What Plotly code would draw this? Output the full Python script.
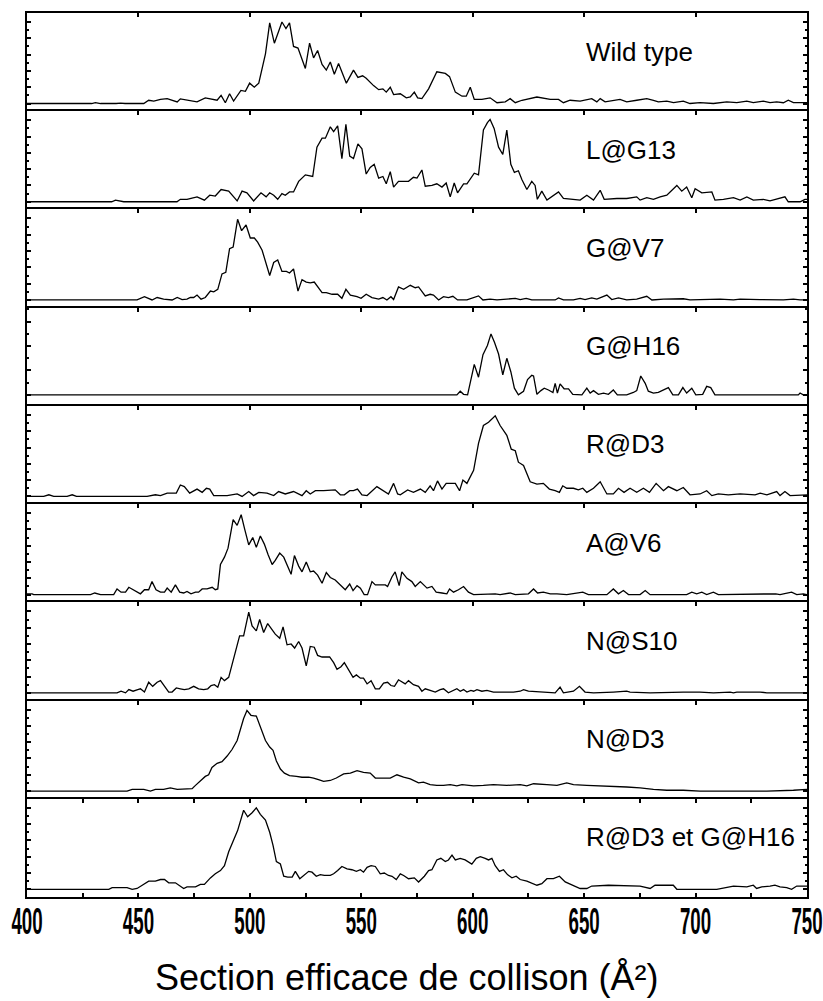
import plotly.graph_objects as go
from plotly.subplots import make_subplots

# ---------------- data (x = collision cross-section in A^2, y = normalised intensity) ----------------
LABELS = ["Wild type", "L@G13", "G@V7", "G@H16", "R@D3", "A@V6", "N@S10", "N@D3", "R@D3 et G@H16"]

WILD_TYPE = [(400, 0), (429, 0), (430.7, 0.01), (433, 0), (440, 0), (442, 0.005), (444, 0), (452.4, 0),
    (454.6, 0.04), (456.9, 0.03), (459.9, 0.05), (462.9, 0.06), (467.4, 0.02), (468.8, 0.057), (476.3, 0.02),
    (480, 0.07), (485.3, 0.04), (487.1, 0.1), (489, 0.01), (490.9, 0.12), (492.7, 0.03), (496, 0.16),
    (498, 0.15), (499.9, 0.25), (502, 0.2), (504, 0.25), (507, 0.61), (508.9, 0.99), (511, 0.74),
    (514.4, 1.0), (516.2, 0.92), (517.8, 0.99), (519.6, 0.7), (521.6, 0.68), (524.9, 0.43), (526.8, 0.74),
    (528.6, 0.56), (530.4, 0.65), (532.4, 0.48), (534.3, 0.41), (536.1, 0.51), (537.9, 0.36), (539.8, 0.49),
    (543.3, 0.25), (546.5, 0.41), (548.5, 0.32), (550.6, 0.34), (552.2, 0.31), (555.5, 0.22), (557.8, 0.17),
    (559.7, 0.18), (561.2, 0.14), (563, 0.2), (564.5, 0.11), (567.5, 0.12), (570.2, 0.07), (572, 0.08),
    (573.8, 0.14), (575.3, 0.07), (577.2, 0.06), (580.2, 0.18), (583.9, 0.39), (587.7, 0.37), (589.6, 0.33),
    (592.2, 0.14), (595.2, 0.09), (597.1, 0.09), (598.9, 0.2), (600.7, 0.05), (604.1, 0.05), (607.8, 0.07),
    (610.9, 0.01), (614.6, 0.02), (616.8, 0.06), (619.1, 0.01), (622.1, 0.04), (628.8, 0.08), (634.8, 0.05),
    (638.5, 0.05), (640.7, 0.01), (643.7, 0.04), (648.2, 0.03), (653.4, 0.06), (655.7, 0.02), (657.2, 0.06),
    (659.4, 0.02), (666.1, 0.05), (669.1, 0.02), (673.6, 0.04), (678.1, 0.06), (681.1, 0.04), (683.3, 0.02),
    (687.1, 0.03), (690.1, 0.01), (694.5, 0.03), (697.5, 0), (702, 0.01), (708, 0), (714, 0.02),
    (718.5, 0.01), (723, 0.03), (725.9, 0.01), (730.4, 0.03), (733.4, 0.01), (736.4, 0.02), (739.4, 0.01),
    (741.6, 0.04), (743.9, 0.01), (750, 0.01)]

L_G13 = [(400, 0), (438, 0), (439.7, 0.02), (443.4, 0), (467.3, 0), (468.8, 0.03), (471.8, 0.03),
    (476.3, 0.06), (479.6, 0.02), (482, 0.08), (484.5, 0.07), (487.1, 0.15), (490.5, 0.13), (494.3, 0.01),
    (496.5, 0.13), (498.7, 0.11), (501.7, 0.01), (505, 0.11), (507.3, 0.06), (508.9, 0.11), (510.7, 0.08),
    (512.5, 0.03), (514.4, 0.1), (515.9, 0.08), (517.8, 0.12), (519.6, 0.12), (521.9, 0.25), (524.9, 0.33),
    (528.2, 0.31), (530.1, 0.67), (532.4, 0.78), (533.9, 0.78), (536.1, 0.92), (537.6, 0.86), (539.4, 0.93),
    (541.3, 0.53), (543.1, 0.95), (544.8, 0.56), (546.5, 0.53), (548.5, 0.71), (550.3, 0.65), (552.2, 0.34),
    (554, 0.42), (555.8, 0.46), (557.8, 0.29), (559.7, 0.31), (561.2, 0.22), (563, 0.37), (564.5, 0.18),
    (566.7, 0.25), (571.2, 0.25), (573.4, 0.3), (575, 0.29), (577.2, 0.39), (578.7, 0.19), (581.7, 0.2),
    (583.9, 0.22), (586.2, 0.18), (588.1, 0.23), (589.9, 0.06), (591.7, 0.23), (593.2, 0.11), (595.9, 0.22),
    (597.4, 0.22), (600.7, 0.35), (602.6, 0.33), (604.8, 0.88), (606.6, 0.97), (607.8, 1.01), (609.6, 0.9),
    (611.6, 0.67), (613.5, 0.58), (615.3, 0.88), (617.1, 0.46), (618.7, 0.36), (620.5, 0.38), (622.1, 0.27),
    (624.3, 0.15), (626.5, 0.25), (628, 0.2), (629, 0.03), (631, 0.13), (633.3, 0.02), (638.5, 0.12),
    (640.7, 0.04), (648.2, 0.02), (651.2, 0.08), (654.2, 0.02), (657.2, 0.14), (659, 0.03), (664.7, 0.04),
    (669.1, 0.04), (673.6, 0.06), (675.1, 0.02), (678.1, 0.05), (681.1, 0.03), (684.1, 0.06), (687.1, 0.08),
    (691.6, 0.2), (693.8, 0.13), (696, 0.18), (698.3, 0.05), (699.8, 0.16), (702.8, 0.11), (707.3, 0.12),
    (708.7, 0.02), (712.5, 0.03), (717, 0.05), (720, 0.02), (723, 0.06), (725.9, 0.02), (730.4, 0.03),
    (733.4, 0.01), (736.4, 0.03), (740.1, 0.06), (741.6, 0), (746.9, 0), (749.1, 0.03), (750, 0.03)]

G_V7 = [(400, 0), (449.4, 0), (452.7, 0.04), (456.1, 0), (458.4, 0.03), (461.3, 0.01), (465.1, 0),
    (467.4, 0.03), (469.6, 0.005), (471.8, 0.01), (473.3, 0.03), (474.8, 0.03), (476.3, 0.06), (478.1, 0.01),
    (480, 0.03), (482.3, 0.11), (483.8, 0.1), (485.6, 0.13), (487.5, 0.32), (489.2, 0.34), (490.9, 0.63),
    (492.5, 0.65), (494.5, 0.99), (496.3, 0.85), (498.3, 0.92), (500.2, 0.76), (502, 0.76), (503.5, 0.71),
    (505.5, 0.61), (507, 0.48), (508.9, 0.3), (510.7, 0.46), (512.5, 0.49), (514.4, 0.35), (516.4, 0.35),
    (517.8, 0.33), (519.6, 0.38), (521.6, 0.11), (523.4, 0.25), (525.3, 0.22), (527.1, 0.21), (528.9, 0.22),
    (532.4, 0.09), (534.3, 0.09), (536.9, 0.07), (539.4, 0.07), (541.3, 0.02), (543.1, 0.13), (545.1, 0.06),
    (548.1, 0.04), (549.9, 0.02), (552.2, 0.07), (554.8, 0.03), (557.8, 0.01), (559.7, 0.03), (561.5, 0),
    (563.3, 0.04), (564.5, 0.005), (566.7, 0.16), (569, 0.13), (572, 0.18), (574.2, 0.15), (575.7, 0.16),
    (578.7, 0.05), (580.9, 0.07), (582.4, 0.06), (584.7, 0), (586.9, 0.04), (589.1, 0.03), (591.1, 0.045),
    (593.2, 0), (597.4, 0), (599.6, 0.02), (602.6, 0.05), (604.6, 0), (607.8, 0.01), (610.9, 0),
    (615.3, 0.01), (619.1, 0.02), (621.3, 0.005), (624, 0.02), (626.5, 0), (633.3, 0.005), (637, 0),
    (638.5, 0.025), (640.7, 0), (645.2, 0), (648.2, 0.02), (650.4, 0.005), (653.4, 0.025), (655.7, 0.01),
    (660.2, 0.06), (662.4, 0.005), (665.4, 0.025), (669.1, 0), (673.6, 0.01), (678.1, 0.045), (680.4, 0),
    (685.6, 0.01), (694.5, 0.015), (697.5, 0), (711, 0.01), (717, 0), (720, 0.01), (729, 0.005),
    (739.4, 0), (743.9, 0.01), (746.9, 0), (750, 0)]

G_H16 = [(400, 0), (592.9, 0), (594.4, 0.06), (595.9, 0.01), (597.7, 0), (600.7, 0.5), (602.6, 0.29),
    (604.6, 0.66), (606.6, 0.81), (608.2, 1.0), (609.8, 0.86), (611.6, 0.67), (613.5, 0.33), (615.3, 0.6),
    (617.1, 0.38), (618.7, 0.11), (620.5, 0), (622.8, 0.06), (624.6, 0.25), (626.5, 0.32), (627.3, 0.31),
    (628.8, 0.01), (630.6, 0.07), (632.1, 0.11), (634, 0.08), (636, 0.04), (637, 0.19), (638, 0.03),
    (639.2, 0.18), (641, 0.1), (643, 0.1), (644.9, 0.01), (649, 0), (651.2, 0.11), (652.7, 0.03),
    (654.2, 0.07), (656.4, 0.01), (658.7, 0.03), (660.9, 0.01), (663.1, 0.08), (664.9, 0), (669.1, 0),
    (672.1, 0.04), (673.6, 0.07), (675.4, 0.31), (677.4, 0.19), (678.8, 0.06), (681.1, 0.03), (683.3, 0.04),
    (685.6, 0.08), (687.8, 0.12), (689.8, 0), (692.3, 0), (694.3, 0.12), (696, 0.03), (698.3, 0.11),
    (700.1, 0), (703.2, 0.01), (705, 0.14), (706.8, 0.12), (708.7, 0), (746.1, 0), (746.9, 0.03),
    (748.3, 0), (750, 0)]

R_D3 = [(400, 0), (407.5, 0), (409.8, 0.02), (412, 0), (418, 0), (420.3, 0.02), (422.2, 0), (453.9, 0),
    (457.6, 0.02), (459.9, 0.01), (462.9, 0.04), (467, 0.04), (468.8, 0.14), (470.6, 0.12), (473, 0.04),
    (476.3, 0.09), (478.6, 0.05), (480.5, 0.1), (482, 0.09), (483.8, 0.01), (489.8, 0.01), (494.3, 0.03),
    (496.5, 0), (499.5, 0.06), (501.7, 0.01), (504, 0.05), (507.7, 0.04), (510.7, 0.01), (512.9, 0.06),
    (515.9, 0.03), (519.6, 0.06), (523.4, 0.01), (525.3, 0.07), (527.1, 0.03), (529.4, 0.07), (533.1, 0.07),
    (538.3, 0.08), (540.6, 0.02), (542.4, 0.02), (544.8, 0.07), (546.5, 0.07), (548.3, 0.09), (550.3, 0.02),
    (552.6, 0.01), (557, 0.12), (559.3, 0.08), (562.2, 0.03), (564.5, 0.16), (566.3, 0.03), (567.5, 0.02),
    (570.8, 0.08), (573.4, 0.05), (576.5, 0.09), (578.7, 0.05), (580.9, 0.13), (582.4, 0.07), (584.2, 0.19),
    (586.2, 0.09), (588.1, 0.16), (590.7, 0.16), (592.2, 0.16), (594.1, 0.07), (595.6, 0.2), (597.4, 0.16),
    (600.4, 0.32), (602.6, 0.65), (604.8, 0.87), (607.1, 0.91), (610.1, 0.99), (612.3, 0.87), (615.3, 0.75),
    (617.3, 0.58), (619.1, 0.56), (620.5, 0.42), (622.8, 0.38), (625.8, 0.18), (628.8, 0.15), (631.7, 0.16),
    (634.4, 0.09), (637, 0.07), (638.9, 0.05), (640.4, 0.13), (642.2, 0.1), (645.2, 0.1), (647.4, 0.08),
    (649.4, 0.1), (651.2, 0.05), (654.2, 0.1), (657.2, 0.18), (660.2, 0.03), (663.1, 0.03), (665.4, 0.1),
    (667.9, 0.05), (670.6, 0.1), (673.6, 0.05), (676.6, 0.1), (679.3, 0.05), (682.3, 0.16), (685.6, 0.07),
    (687.8, 0.12), (691.6, 0.07), (694.5, 0.11), (697.5, 0.02), (702, 0.03), (705, 0.07), (707.3, 0.01),
    (710.2, 0.03), (714.7, 0.02), (720, 0.03), (726.7, 0.02), (729, 0.04), (732, 0.02), (736.4, 0.06),
    (737.9, 0.01), (740.1, 0.06), (742.4, 0.01), (748.3, 0.02), (750, 0.02)]

A_V6 = [(400, 0.01), (402.3, 0.01), (403, 0), (428.5, 0), (430.4, 0.02), (433, 0), (438.9, 0), (440.4, 0.07),
    (442.2, 0.03), (444.2, 0.03), (445.7, 0.09), (447.9, 0.06), (450.9, 0.01), (452.7, 0.06), (454.6, 0.06),
    (456.1, 0.16), (457.9, 0.06), (459.9, 0.03), (461.7, 0.03), (462.9, 0.08), (464.7, 0.03), (466.6, 0.12),
    (468.5, 0.03), (470.3, 0.02), (471.8, 0.04), (473.6, 0.01), (475.6, 0.03), (477, 0.03), (478.6, 0.07),
    (480.8, 0.07), (483.1, 0.09), (484.5, 0.06), (485.6, 0.07), (486.8, 0.37), (488.6, 0.46), (490.2, 0.57),
    (492.5, 0.92), (494.3, 0.85), (496.1, 0.98), (497.7, 0.8), (499.5, 0.61), (501.3, 0.7), (502.9, 0.58),
    (504.7, 0.72), (506.5, 0.62), (508.2, 0.49), (510, 0.37), (511.4, 0.42), (513.4, 0.51), (515.2, 0.46),
    (516.7, 0.37), (518.5, 0.25), (520, 0.48), (521.9, 0.35), (523.4, 0.28), (525.3, 0.4), (527.1, 0.28),
    (528.6, 0.29), (530.4, 0.24), (532.4, 0.14), (534.3, 0.27), (536.1, 0.21), (538.3, 0.18), (540.6, 0.12),
    (542.8, 0.06), (544.8, 0.13), (546.3, 0.05), (548.1, 0.11), (549.6, 0.08), (551.3, 0), (552.8, 0),
    (554.8, 0.16), (556.3, 0.12), (558.5, 0.12), (560.8, 0.12), (561.8, 0.1), (563.8, 0.22), (565.2, 0.28),
    (567, 0.11), (568.2, 0.28), (570.5, 0.2), (572.7, 0.16), (574.2, 0.1), (576.5, 0.16), (577.9, 0.12),
    (579.5, 0.08), (581.7, 0.1), (583.6, 0.03), (586.2, 0.02), (588.4, 0.01), (589.6, 0.07), (591.4, 0.03),
    (593.6, 0.06), (595.9, 0.1), (598.1, 0.03), (600.4, 0), (610.1, 0.01), (612.3, 0), (616.8, 0.02),
    (619.1, 0), (625, 0.01), (627.3, 0.07), (629.1, 0.02), (631.7, 0.03), (634.8, 0.01), (637.8, 0.01),
    (642.2, 0), (649.4, 0.03), (651.9, 0), (660.2, 0), (663.1, 0.07), (665.4, 0.01), (667.6, 0.05),
    (669.9, 0), (675.1, 0), (677.4, 0.05), (679.6, 0), (696, 0), (698.3, 0.03), (700.5, 0.01), (702.8, 0.03),
    (705, 0), (708, 0.03), (710.2, 0), (736, 0.01), (737.9, 0), (743.1, 0.03), (745.4, 0), (748.3, 0.01),
    (750, 0)]

N_S10 = [(400, 0), (440.4, 0), (442.2, 0.02), (444.2, 0), (445.7, 0.04), (447.6, 0.02), (449.7, 0.04),
    (450.9, 0.05), (452.7, 0.01), (454.6, 0.13), (456.4, 0.08), (458.4, 0.13), (459.9, 0.15), (461.7, 0.08),
    (463.6, 0.01), (465.1, 0.01), (467, 0.06), (468.8, 0.05), (470.6, 0.04), (472.6, 0.05), (474.8, 0.08),
    (477, 0.05), (479.3, 0.04), (481.1, 0.05), (482.6, 0.09), (484.1, 0.1), (485.6, 0.07), (487.1, 0.19),
    (488.6, 0.15), (490.5, 0.19), (492.5, 0.4), (494, 0.55), (495.4, 0.7), (497.2, 0.7), (498.4, 0.86),
    (499.5, 0.99), (501, 0.82), (502.9, 0.76), (504.4, 0.9), (506.2, 0.74), (508, 0.85), (510, 0.78),
    (511.4, 0.72), (513.4, 0.67), (514.9, 0.81), (516.7, 0.59), (518.5, 0.6), (520.1, 0.55), (521.9, 0.63),
    (523.4, 0.55), (525.3, 0.33), (527.1, 0.57), (528.9, 0.56), (530.4, 0.46), (532.4, 0.44), (535.8, 0.44),
    (537.6, 0.37), (539.1, 0.29), (540.9, 0.32), (542.4, 0.37), (544.3, 0.29), (546.3, 0.19), (547.8, 0.22),
    (549.6, 0.18), (551, 0.18), (552.6, 0.11), (554.4, 0.15), (556.3, 0.05), (558.1, 0.05), (560, 0.12),
    (561.8, 0.13), (563.3, 0.09), (564.9, 0.08), (566.7, 0.16), (569.7, 0.11), (571.2, 0.15), (573.4, 0.1),
    (575.7, 0.08), (577.2, 0.02), (578.7, 0.05), (580.9, 0.03), (583.2, 0.01), (585.4, 0.04), (586.9, 0.05),
    (589.1, 0), (591.1, 0.03), (592.9, 0.05), (594.4, 0.02), (595.9, 0.04), (597.4, 0.01), (599.2, 0.03),
    (600.4, 0.02), (601.9, 0.04), (604.1, 0.02), (606.4, 0.03), (609.3, 0.01), (618.3, 0.01), (621.3, 0.02),
    (622.8, 0.04), (625, 0.02), (629.5, 0.01), (633.3, 0), (637, 0), (639.2, 0.07), (640.7, 0), (645.2, 0.02),
    (647.9, 0.08), (650.4, 0.01), (654.2, 0), (663.1, 0.01), (669.1, 0.02), (670.6, 0.01), (679.6, 0),
    (694.5, 0.01), (702, 0.01), (708, 0), (715.5, 0.01), (717, 0), (718.5, 0.01), (729, 0.01), (732, 0),
    (750, 0)]

N_D3 = [(400, 0), (444.9, 0), (447.2, 0.02), (452.4, 0.02), (455.4, 0), (457.6, 0.02), (461.3, 0.02),
    (464.3, 0.04), (467.4, 0.02), (471.8, 0.03), (474.1, 0.03), (475.6, 0.07), (477.8, 0.13), (480, 0.18),
    (481.5, 0.2), (483, 0.29), (485.3, 0.34), (487.5, 0.36), (489.8, 0.43), (492, 0.51), (494.3, 0.62),
    (496.1, 0.79), (497.2, 0.89), (498.7, 0.99), (500.5, 0.93), (502.9, 0.92), (504.7, 0.79), (507, 0.62),
    (508.9, 0.54), (510.4, 0.5), (511.9, 0.37), (513.7, 0.27), (515.5, 0.22), (517.8, 0.19), (520.9, 0.18),
    (523.4, 0.17), (526.4, 0.17), (528.6, 0.16), (530.8, 0.14), (533.1, 0.12), (536.1, 0.13), (538.8, 0.16),
    (542.1, 0.21), (545.1, 0.22), (548.1, 0.25), (551, 0.23), (554, 0.22), (556.3, 0.16), (559.3, 0.16),
    (563, 0.16), (566, 0.2), (569, 0.17), (572, 0.15), (575.7, 0.1), (577.9, 0.11), (580.9, 0.08),
    (583.9, 0.07), (586.9, 0.07), (589.9, 0.08), (592.9, 0.065), (595.2, 0.08), (597.4, 0.07), (600.4, 0.065),
    (604.8, 0.07), (609.3, 0.08), (615.3, 0.07), (621.3, 0.08), (624.3, 0.065), (627.3, 0.09), (633.3, 0.08),
    (637.8, 0.07), (642.2, 0.1), (645.2, 0.08), (651.2, 0.07), (657.2, 0.065), (663.1, 0.06), (669.1, 0.05),
    (675.1, 0.04), (681.1, 0.02), (687.1, 0.01), (694.5, 0.01), (702, 0), (732, 0), (743.9, 0.01),
    (748.3, 0.02), (750, 0.02)]

R_D3_G_H16 = [(400, 0), (436.7, 0), (438.2, 0.02), (444.9, 0.02), (447.2, 0), (449.4, 0.01), (451.7, 0.05),
    (454.6, 0.1), (457.6, 0.1), (459.9, 0.12), (461.7, 0.12), (463.6, 0.08), (466.6, 0.08), (470.3, 0.01),
    (471.8, 0.03), (475.6, 0.03), (477.8, 0.06), (479.6, 0.06), (482.3, 0.14), (484.5, 0.19), (486.8, 0.23),
    (488.6, 0.29), (490.5, 0.46), (492.7, 0.6), (494.5, 0.72), (497.2, 0.97), (499, 0.89), (501, 0.94),
    (502.9, 1.0), (504.7, 0.92), (507, 0.85), (508.9, 0.7), (510.4, 0.54), (511.9, 0.34), (513.7, 0.31),
    (515.2, 0.16), (517, 0.15), (519, 0.15), (520.4, 0.22), (522.4, 0.13), (524.1, 0.17), (526.4, 0.22),
    (527.9, 0.21), (529.8, 0.16), (531.6, 0.18), (533.4, 0.17), (536.1, 0.17), (537.6, 0.19), (539.4, 0.23),
    (541.3, 0.28), (543.6, 0.25), (545.8, 0.24), (547.8, 0.22), (549.6, 0.24), (551, 0.21), (552.6, 0.27),
    (554.4, 0.29), (556.3, 0.28), (558.5, 0.19), (560.3, 0.2), (562.2, 0.17), (563.8, 0.16), (565.7, 0.12),
    (567.5, 0.19), (569, 0.17), (571.2, 0.13), (573.8, 0.14), (575.7, 0.09), (578.3, 0.16), (580.2, 0.23),
    (581.7, 0.24), (583.9, 0.36), (585.7, 0.38), (587.7, 0.34), (589.1, 0.36), (590.7, 0.42), (592.2, 0.36),
    (594.4, 0.38), (596.6, 0.36), (599.6, 0.31), (601.6, 0.38), (603.4, 0.4), (605.6, 0.38), (607.1, 0.36),
    (608.6, 0.38), (610.1, 0.29), (612, 0.22), (613.8, 0.24), (615.6, 0.18), (617.6, 0.14), (619.5, 0.16),
    (621.3, 0.12), (624.3, 0.1), (626.5, 0.08), (628.8, 0.05), (631, 0.07), (633.3, 0.13), (636.2, 0.13),
    (638.9, 0.16), (641.5, 0.09), (644, 0.06), (646.4, 0.04), (648.2, 0.01), (651.2, 0.01), (653.4, 0.04),
    (660.9, 0.05), (670.6, 0.04), (675.1, 0.04), (679.6, 0.01), (681.8, 0.05), (690, 0.05), (691.6, 0),
    (709.5, 0), (717, 0.04), (723, 0.03), (725.9, 0.05), (727.4, 0.01), (729.7, 0.03), (733.4, 0.04),
    (735.6, 0.05), (737.9, 0.03), (740.9, 0.02), (743.1, 0), (745.4, 0.04), (749.1, 0.04), (750, 0.04)]

SERIES = [WILD_TYPE, L_G13, G_V7, G_H16, R_D3, A_V6, N_S10, N_D3, R_D3_G_H16]
X_RANGE = [400, 750]
X_TICKS = [400, 450, 500, 550, 600, 650, 700, 750]
X_TITLE = "Section efficace de collison (Å²)"

# ---------------- figure ----------------
W, H = 823, 1001
ML, MR, MT, MB = 27, 16, 13, 104
N = len(SERIES)
fig = make_subplots(rows=N, cols=1, vertical_spacing=0)

panel_h = (H - MT - MB) / N
for i, pts in enumerate(SERIES):
    r = i + 1
    xs = [p[0] for p in pts]
    ys = [p[1] for p in pts]
    fig.add_trace(go.Scatter(x=xs, y=ys, mode="lines", line=dict(color="black", width=1.3),
                             showlegend=False, hoverinfo="skip"), row=r, col=1)
    if LABELS[i] == "G@H16":
        pxu, base, dt = 61.0, 11.0, 0.4
    else:
        pxu, base, dt = 81.5, 7.7, 0.2
    yr = [-base / pxu, (panel_h - base) / pxu]
    fig.update_yaxes(range=yr, tickmode="linear", tick0=0, dtick=dt, ticks="inside", ticklen=4,
                     tickwidth=1.5, tickcolor="black", showticklabels=False, showgrid=False,
                     zeroline=False, showline=True, linecolor="black", linewidth=2, mirror="ticks",
                     automargin=False,
                     minor=dict(tickmode="linear", tick0=0, dtick=dt / 2, ticks="inside", ticklen=2,
                                tickwidth=1.5, tickcolor="black", showgrid=False),
                     row=r, col=1)
    last = (r == N)
    xa = dict(range=X_RANGE, tickmode="array", tickvals=X_TICKS, ticks="inside", ticklen=4,
              tickwidth=1.5, tickcolor="black", showgrid=False, zeroline=False, showline=True,
              linecolor="black", linewidth=2, automargin=False)
    if last:
        xa.update(side="bottom", mirror="ticks", showticklabels=True, ticklabeloverflow="allow",
                  ticklabelstandoff=-8,
                  tickfont=dict(family="Liberation Sans, Arial, sans-serif",
                                size=36, color="black", weight="bold"),
                  minor=dict(tickmode="linear", tick0=400, dtick=25, ticks="inside", ticklen=4,
                             tickwidth=1.5, tickcolor="black", showgrid=False))
    else:
        xa.update(side="top", mirror=False, showticklabels=False)
    fig.update_xaxes(**xa, row=r, col=1)

    yref = "y domain" if r == 1 else f"y{r} domain"
    xref = "x" if r == 1 else f"x{r}"
    fig.add_annotation(x=650, xref=xref, xanchor="left", y=1 - 38.5 / panel_h, yref=yref,
                       yanchor="middle", text=LABELS[i], showarrow=False,
                       font=dict(family="Liberation Sans, Arial, sans-serif", size=26, color="black"))

fig.add_annotation(x=(407 - ML) / (W - ML - MR), xref="paper", y=-(978 - (H - MB)) / (H - MT - MB),
                   yref="paper", xanchor="center", yanchor="middle",
                   text=X_TITLE, showarrow=False,
                   font=dict(family="Liberation Sans, Arial, sans-serif", size=36, color="black"))

fig.update_layout(width=W, height=H, margin=dict(l=ML, r=MR, t=MT, b=MB, pad=0, autoexpand=False),
                  plot_bgcolor="white", paper_bgcolor="white")

# page without body margin, and the narrow (condensed) look of the bold tick numbers
CONDENSE_JS = """
(function(){
  document.body.style.margin = '0';
  document.body.style.overflow = 'hidden';
  var gd = document.getElementById('{plot_id}');
  function squeeze(){
    var groups = document.querySelectorAll('g.xaxislayer-above > g');
    for (var k = 0; k < groups.length; k++) {
      var cls = groups[k].getAttribute('class') || '';
      if (!/^x\\d*tick$/.test(cls)) { continue; }
      var t = groups[k].querySelector('text');
      if (!t) { continue; }
      var tr = t.getAttribute('transform') || '';
      if (tr.indexOf('scale') >= 0) { continue; }
      var x0 = parseFloat(t.getAttribute('x') || '0') || 0;
      t.setAttribute('transform', tr + ' translate(' + x0 + ',0) scale(0.52,1) translate(' + (-x0) + ',0)');
    }
  }
  squeeze();
  if (gd && gd.on) { gd.on('plotly_afterplot', squeeze); }
  var n = 0;
  var iv = setInterval(function(){ squeeze(); n += 1; if (n > 60) { clearInterval(iv); } }, 50);
})();
"""
fig.write_html("out.html", post_script=CONDENSE_JS, config={"displayModeBar": False})
